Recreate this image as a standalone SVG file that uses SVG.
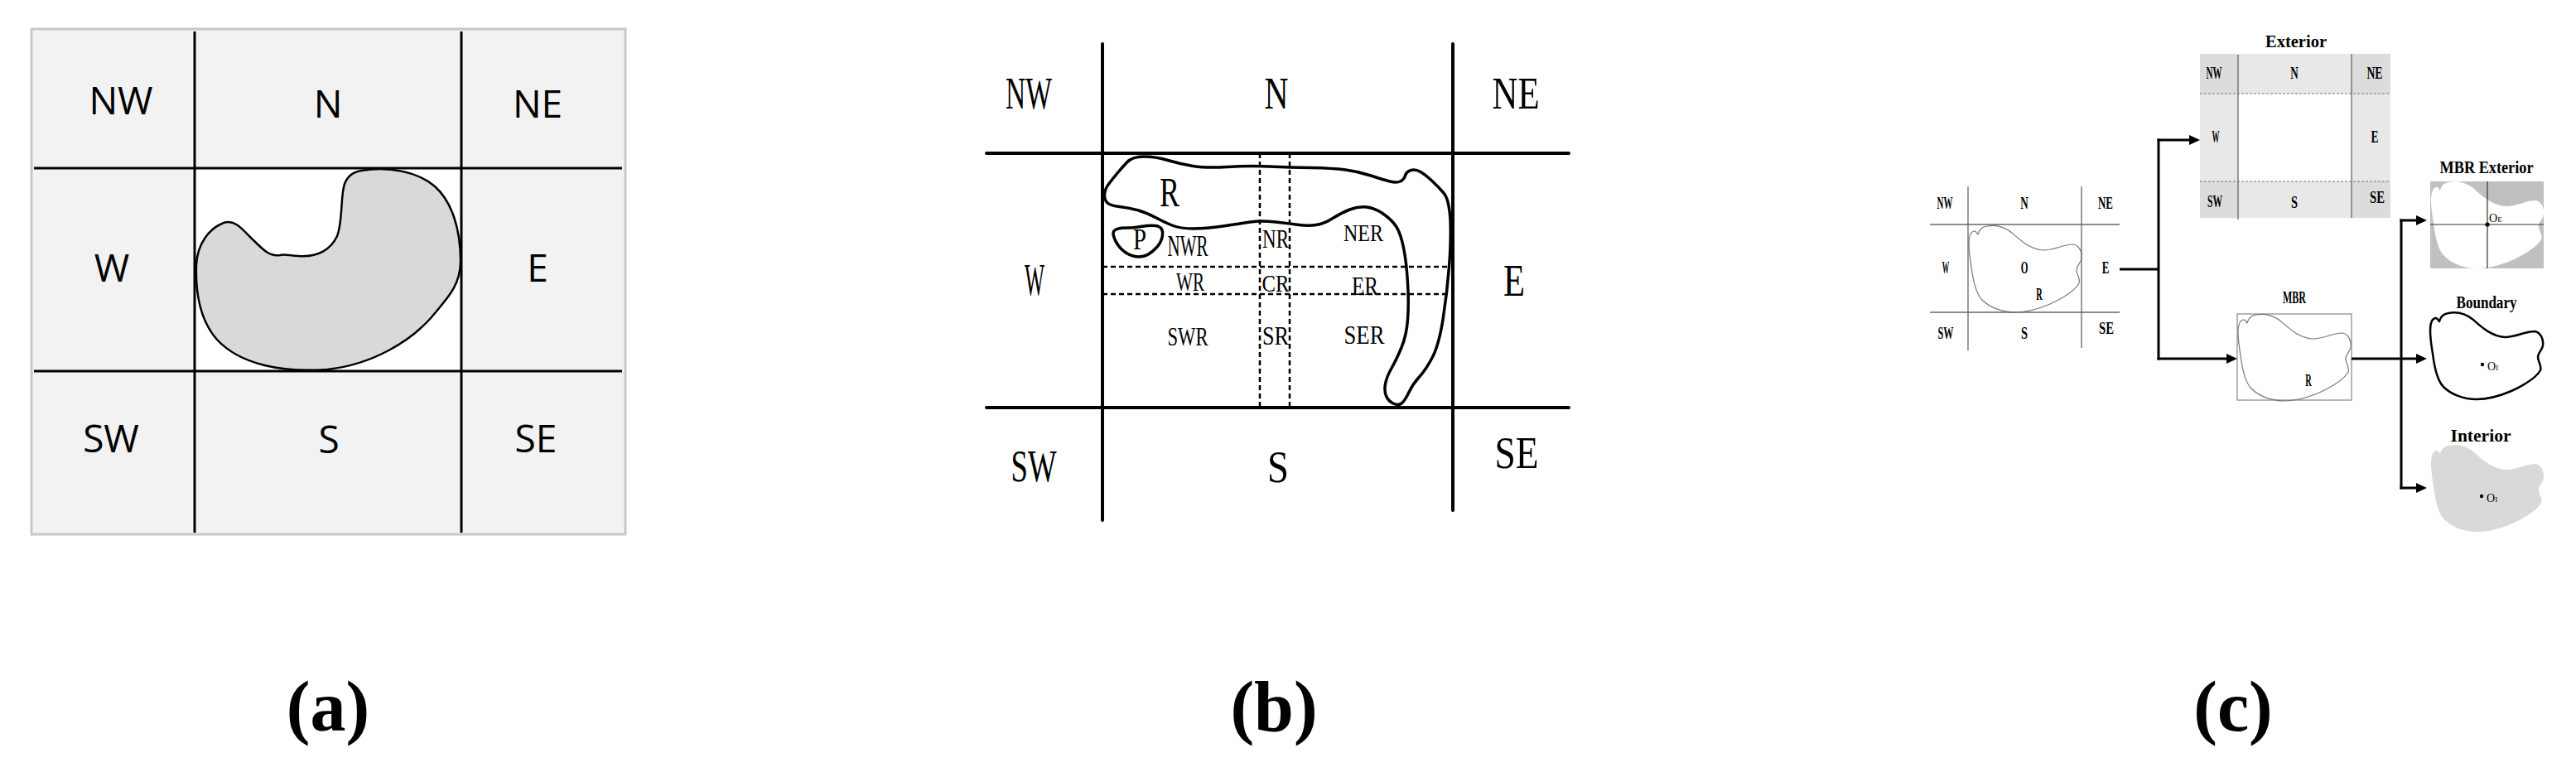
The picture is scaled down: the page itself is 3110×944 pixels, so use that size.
<svg xmlns="http://www.w3.org/2000/svg" xmlns:xlink="http://www.w3.org/1999/xlink" width="3110" height="944" viewBox="0 0 3110 944">
<style>
.sa{font-family:"Open Sans","Noto Sans",sans-serif;font-size:46px;text-anchor:middle;fill:#000}
.sb{font-family:"Liberation Serif","Times New Roman",serif;text-anchor:middle;fill:#000;lengthAdjust:spacingAndGlyphs}
.sc{font-family:"Liberation Serif","Times New Roman",serif;font-weight:bold;font-size:20px;text-anchor:middle;fill:#000}
.cap{font-family:"Liberation Serif","Times New Roman",serif;font-weight:bold;font-size:86px;text-anchor:middle;fill:#000}
.blk{stroke:#000;stroke-width:3;fill:none}
.thick{stroke:#000;stroke-width:4;fill:none;stroke-linecap:round}
.dash{stroke:#000;stroke-width:2.5;fill:none;stroke-dasharray:6 4}
.gl{stroke:#666;stroke-width:1.3;fill:none}
.gd{stroke:#777;stroke-width:1.2;fill:none;stroke-dasharray:3 2}
.con{stroke:#000;stroke-width:3;fill:none}
</style>
<defs>
<marker id="ah" markerUnits="userSpaceOnUse" markerWidth="13" markerHeight="12" refX="0" refY="6" orient="auto">
<path d="M0,0 L13,6 L0,12 Z" fill="#000"/>
</marker>
<path id="shape" d="M0,22 C0,14 2,8 6,7 C9,6 10,11 11,11 C12,7 14,2 22,1 C32,-1 42,1 52,9 C62,18 74,29 90,30 C104,30 114,23 126,23 C133,24 137,32 136,40 C135,46 130,49 130,54 C130,60 135,64 133,70 C128,79 113,88 98,95 C84,101 70,105 56,105 C40,105 25,99 16,90 C8,82 5,66 3,50 C1,38 0,30 0,22 Z"/>
<clipPath id="mbrclip"><rect x="2934" y="219" width="137" height="105"/></clipPath>
</defs>
<rect width="3110" height="944" fill="#fff"/>

<!-- Panel (a) -->
<g id="panel-a">
<rect x="38" y="35" width="717" height="610" fill="#f2f2f2" stroke="#c8c8c8" stroke-width="3"/>
<rect x="235" y="203" width="322" height="245" fill="#fff"/>
<path id="a-blob" d="M436,206 C470,200 505,208 525,225 C545,243 556,275 556,315 C556,345 540,360 520,384 C495,412 450,440 395,446 C340,450 290,440 262,410 C240,385 236,350 237,320 C238,295 252,276 270,269 C285,264 295,280 306,290 C318,302 326,310 338,308 C345,306 350,309 360,309 C385,311 400,300 407,285 C414,268 411,235 416,222 C420,212 426,208 436,206 Z" fill="#d9d9d9" stroke="#000" stroke-width="2.5"/>
<line class="blk" x1="235" y1="38" x2="235" y2="643"/>
<line class="blk" x1="557" y1="38" x2="557" y2="643"/>
<line class="blk" x1="41" y1="203" x2="751" y2="203"/>
<line class="blk" x1="41" y1="448" x2="751" y2="448"/>
<text class="sa" x="146" y="138">NW</text>
<text class="sa" x="396" y="142">N</text>
<text class="sa" x="649" y="142">NE</text>
<text class="sa" x="135" y="340">W</text>
<text class="sa" x="649" y="340">E</text>
<text class="sa" x="134" y="546">SW</text>
<text class="sa" x="397" y="547">S</text>
<text class="sa" x="647" y="546">SE</text>
</g>

<!-- Panel (b) -->
<g id="panel-b">
<line class="thick" x1="1331" y1="53" x2="1331" y2="628"/>
<line class="thick" x1="1754" y1="53" x2="1754" y2="616"/>
<line class="thick" x1="1191" y1="185" x2="1894" y2="185"/>
<line class="thick" x1="1191" y1="492" x2="1894" y2="492"/>
<line class="dash" x1="1331" y1="322" x2="1750" y2="322"/>
<line class="dash" x1="1331" y1="355" x2="1750" y2="355"/>
<line class="dash" x1="1521" y1="185" x2="1521" y2="492"/>
<line class="dash" x1="1557" y1="185" x2="1557" y2="492"/>
<path id="b-R" d="M1743,233 Q1749.5,240 1751,266 Q1752,291 1749.5,322 Q1747,354 1742,386 Q1737,417 1729,432 Q1721,447 1713.5,455 Q1706,463 1701,473.5 Q1696,484 1692,487 Q1688,490 1682,487 Q1676,484 1673.5,478 Q1671,472 1672.5,463.5 Q1674,455 1680,444.5 Q1686,434 1692,419.5 Q1698,405 1699.5,386 Q1701,367 1699.5,341.5 Q1698,316 1694.5,299 Q1691,282 1686,274 Q1681,266 1670.5,258.5 Q1660,251 1650,250 Q1640,249 1629.5,253 Q1619,257 1609,263.5 Q1599,270 1589,271.5 Q1579,273 1568.5,271.5 Q1558,270 1540,268 Q1522,266 1509.5,268 Q1497,270 1476.5,273 Q1456,276 1440.5,276 Q1425,276 1415,272 Q1405,268 1395,262.5 Q1385,257 1374.5,254 Q1364,251 1351.5,249.5 Q1339,248 1336,244 Q1333,240 1333.5,234 Q1334,228 1339,221.5 Q1344,215 1349,209 Q1354,203 1360.5,196 Q1367,189 1381,189 Q1395,189 1410,193.5 Q1425,198 1440.5,200.5 Q1456,203 1481.5,201.5 Q1507,200 1532.5,201 Q1558,202 1583.5,202.5 Q1609,203 1624.5,205 Q1640,207 1655,212 Q1670,217 1678,219 Q1686,221 1690.5,219 Q1695,217 1696.5,212 Q1698,207 1703.5,205.5 Q1709,204 1715,207.5 Q1721,211 1729,218.5 Q1737,226 1743,233 Z" fill="none" stroke="#000" stroke-width="3.5"/>
<path id="b-P" d="M1344,283 C1343,276 1352,275 1362,275 C1375,275 1388,270 1398,273 C1408,277 1403,292 1396,299 C1388,308 1378,312 1368,309 C1357,306 1347,296 1344,283 Z" fill="none" stroke="#000" stroke-width="3.5"/>
<text class="sb" font-size="54" x="1242" y="131" textLength="56" lengthAdjust="spacingAndGlyphs">NW</text>
<text class="sb" font-size="54" x="1541" y="131" textLength="29" lengthAdjust="spacingAndGlyphs">N</text>
<text class="sb" font-size="54" x="1830" y="131" textLength="57" lengthAdjust="spacingAndGlyphs">NE</text>
<text class="sb" font-size="54" x="1249" y="356" textLength="24" lengthAdjust="spacingAndGlyphs">W</text>
<text class="sb" font-size="54" x="1828" y="357" textLength="26" lengthAdjust="spacingAndGlyphs">E</text>
<text class="sb" font-size="54" x="1248" y="581" textLength="55" lengthAdjust="spacingAndGlyphs">SW</text>
<text class="sb" font-size="54" x="1543" y="582" textLength="26" lengthAdjust="spacingAndGlyphs">S</text>
<text class="sb" font-size="54" x="1831" y="565" textLength="53" lengthAdjust="spacingAndGlyphs">SE</text>
<text class="sb" font-size="50" x="1412" y="249" textLength="24" lengthAdjust="spacingAndGlyphs">R</text>
<text class="sb" font-size="35" x="1376" y="301" textLength="16" lengthAdjust="spacingAndGlyphs">P</text>
<text class="sb" font-size="35" x="1434" y="309" textLength="49" lengthAdjust="spacingAndGlyphs">NWR</text>
<text class="sb" font-size="32" x="1540" y="299" textLength="32" lengthAdjust="spacingAndGlyphs">NR</text>
<text class="sb" font-size="30" x="1646" y="291" textLength="48" lengthAdjust="spacingAndGlyphs">NER</text>
<text class="sb" font-size="32" x="1437" y="351" textLength="34" lengthAdjust="spacingAndGlyphs">WR</text>
<text class="sb" font-size="30" x="1540" y="352" textLength="33" lengthAdjust="spacingAndGlyphs">CR</text>
<text class="sb" font-size="32" x="1648" y="356" textLength="32" lengthAdjust="spacingAndGlyphs">ER</text>
<text class="sb" font-size="31" x="1434" y="417" textLength="49" lengthAdjust="spacingAndGlyphs">SWR</text>
<text class="sb" font-size="31" x="1540" y="416" textLength="32" lengthAdjust="spacingAndGlyphs">SR</text>
<text class="sb" font-size="31" x="1647" y="415" textLength="49" lengthAdjust="spacingAndGlyphs">SER</text>
</g>

<!-- Panel (c): source grid -->
<g id="c-grid">
<use xlink:href="#shape" href="#shape" transform="translate(2377,272)" fill="none" stroke="#777" stroke-width="1.2"/>
<line class="gl" x1="2376" y1="225" x2="2376" y2="423"/>
<line class="gl" x1="2513" y1="225" x2="2513" y2="420"/>
<line class="gl" x1="2330" y1="271" x2="2559" y2="271"/>
<line class="gl" x1="2330" y1="377" x2="2559" y2="377"/>
<text class="sc" x="2348" y="252" textLength="19" lengthAdjust="spacingAndGlyphs">NW</text>
<text class="sc" x="2444" y="252" textLength="9.5" lengthAdjust="spacingAndGlyphs">N</text>
<text class="sc" x="2542" y="252" textLength="18" lengthAdjust="spacingAndGlyphs">NE</text>
<text class="sc" x="2349" y="330" textLength="8.5" lengthAdjust="spacingAndGlyphs">W</text>
<text class="sc" x="2444" y="330" textLength="8.7" lengthAdjust="spacingAndGlyphs">O</text>
<text class="sc" x="2542" y="330" textLength="8.7" lengthAdjust="spacingAndGlyphs">E</text>
<text class="sc" x="2462" y="362" font-size="16" font-weight="normal" textLength="7.5" lengthAdjust="spacingAndGlyphs">R</text>
<text class="sc" x="2349" y="409" textLength="19" lengthAdjust="spacingAndGlyphs">SW</text>
<text class="sc" x="2444" y="409" textLength="8" lengthAdjust="spacingAndGlyphs">S</text>
<text class="sc" x="2543" y="403" textLength="18" lengthAdjust="spacingAndGlyphs">SE</text>
</g>

<!-- Exterior -->
<g id="c-exterior">
<text class="sc" x="2772" y="57" font-weight="normal" font-size="19" textLength="74" lengthAdjust="spacingAndGlyphs">Exterior</text>
<rect x="2656" y="65" width="46" height="48" fill="#dcdcdc"/>
<rect x="2702" y="65" width="137" height="48" fill="#e8e8e8"/>
<rect x="2839" y="65" width="47" height="48" fill="#dcdcdc"/>
<rect x="2656" y="113" width="46" height="106" fill="#e8e8e8"/>
<rect x="2839" y="113" width="47" height="106" fill="#e8e8e8"/>
<rect x="2656" y="219" width="46" height="44" fill="#dcdcdc"/>
<rect x="2702" y="219" width="137" height="44" fill="#e8e8e8"/>
<rect x="2839" y="219" width="47" height="44" fill="#dcdcdc"/>
<line class="gl" x1="2702" y1="66" x2="2702" y2="265"/>
<line class="gl" x1="2839" y1="65" x2="2839" y2="263"/>
<line class="gd" x1="2656" y1="113" x2="2886" y2="113"/>
<line class="gd" x1="2656" y1="219" x2="2886" y2="219"/>
<text class="sc" x="2673" y="95" textLength="19" lengthAdjust="spacingAndGlyphs">NW</text>
<text class="sc" x="2770" y="95" textLength="9.5" lengthAdjust="spacingAndGlyphs">N</text>
<text class="sc" x="2867" y="95" textLength="19" lengthAdjust="spacingAndGlyphs">NE</text>
<text class="sc" x="2675" y="172" textLength="9" lengthAdjust="spacingAndGlyphs">W</text>
<text class="sc" x="2867" y="172" textLength="9" lengthAdjust="spacingAndGlyphs">E</text>
<text class="sc" x="2674" y="250" textLength="18" lengthAdjust="spacingAndGlyphs">SW</text>
<text class="sc" x="2770" y="251" textLength="8" lengthAdjust="spacingAndGlyphs">S</text>
<text class="sc" x="2870" y="245" textLength="18" lengthAdjust="spacingAndGlyphs">SE</text>
</g>

<!-- MBR -->
<g id="c-mbr">
<text class="sc" x="2770" y="366" textLength="28" lengthAdjust="spacingAndGlyphs">MBR</text>
<rect x="2701" y="379" width="138" height="104" fill="none" stroke="#888" stroke-width="1.2"/>
<use xlink:href="#shape" href="#shape" transform="translate(2702,379)" fill="none" stroke="#777" stroke-width="1.2"/>
<text class="sc" x="2787" y="466" font-size="16" font-weight="normal" textLength="7.5" lengthAdjust="spacingAndGlyphs">R</text>
</g>

<!-- MBR Exterior -->
<g id="c-mbr-exterior">
<text class="sc" x="3002" y="209" textLength="113" lengthAdjust="spacingAndGlyphs">MBR Exterior</text>
<rect x="2934" y="219" width="137" height="105" fill="#c0c0c0"/>
<g clip-path="url(#mbrclip)">
<use xlink:href="#shape" href="#shape" transform="translate(2935,219)" fill="#fff"/>
</g>
<line stroke="#333" stroke-width="1.2" x1="3003" y1="219" x2="3003" y2="324"/>
<line stroke="#333" stroke-width="1.2" x1="2934" y1="271" x2="3071" y2="271"/>
<circle cx="3003" cy="271" r="2.6" fill="#000"/>
<text font-family="Liberation Serif, serif" font-size="14" x="3005" y="268">O<tspan font-size="9">E</tspan></text>
</g>

<!-- Boundary -->
<g id="c-boundary">
<text class="sc" x="3002" y="372" textLength="73" lengthAdjust="spacingAndGlyphs">Boundary</text>
<use xlink:href="#shape" href="#shape" transform="translate(2934,377)" fill="none" stroke="#000" stroke-width="2.5"/>
<circle cx="2997" cy="440" r="2.2" fill="#000"/>
<text font-family="Liberation Serif, serif" font-size="14" x="3003" y="447">O<tspan font-size="9">I</tspan></text>
</g>

<!-- Interior -->
<g id="c-interior">
<text class="sc" x="2995" y="533" textLength="73" lengthAdjust="spacingAndGlyphs">Interior</text>
<use xlink:href="#shape" href="#shape" transform="translate(2935,537)" fill="#d9d9d9"/>
<circle cx="2996" cy="599" r="2.2" fill="#000"/>
<text font-family="Liberation Serif, serif" font-size="14" x="3002" y="606">O<tspan font-size="9">I</tspan></text>
</g>

<!-- Connectors -->
<g id="connectors">
<path class="con" d="M2559,325 H2606"/>
<path class="con" d="M2606,167.5 V434.5"/>
<path class="con" d="M2604.5,169 H2643" marker-end="url(#ah)"/>
<path class="con" d="M2604.5,433 H2688" marker-end="url(#ah)"/>
<path class="con" d="M2839,433 H2917" marker-end="url(#ah)"/>
<path class="con" d="M2899,264.5 V590.5"/>
<path class="con" d="M2897.5,266 H2917" marker-end="url(#ah)"/>
<path class="con" d="M2897.5,589 H2917" marker-end="url(#ah)"/>
</g>

<!-- Captions -->
<g id="captions">
<text class="cap" x="396" y="882">(a)</text>
<text class="cap" x="1538" y="882">(b)</text>
<text class="cap" x="2696" y="882">(c)</text>
</g>
</svg>
